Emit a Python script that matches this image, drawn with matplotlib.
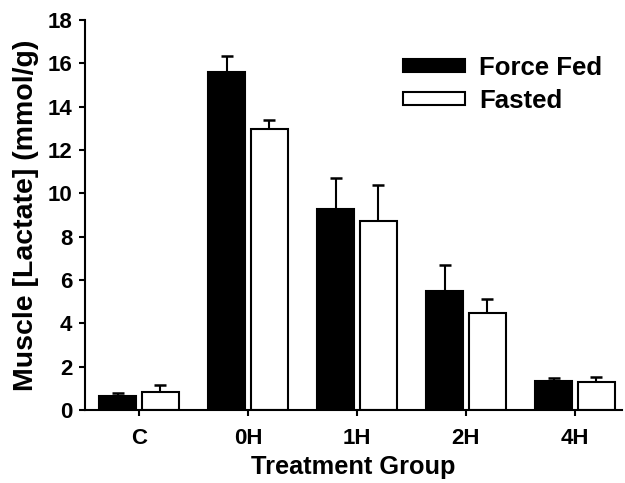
import matplotlib
matplotlib.use("Agg")
import matplotlib.pyplot as plt
import numpy as np

plt.rcParams['font.family'] = ['Liberation Sans', 'DejaVu Sans']
plt.rcParams['font.weight'] = 'bold'

groups = ["C", "0H", "1H", "2H", "4H"]
force_fed = [0.66, 15.6, 9.3, 5.5, 1.35]
force_fed_err = [0.14, 0.75, 1.4, 1.2, 0.14]
fasted = [0.82, 12.95, 8.72, 4.48, 1.31]
fasted_err = [0.33, 0.42, 1.65, 0.64, 0.2]

fig = plt.figure(figsize=(6.25, 4.83), dpi=100)
ax = fig.add_axes([0.136, 0.151, 0.859, 0.8075])

x = np.arange(len(groups))
w = 0.34
off = 0.195

ax.bar(x - off, force_fed, width=w, color='black', edgecolor='black',
       linewidth=1.5, label='Force Fed', zorder=2)
ax.bar(x + off, fasted, width=w, color='white', edgecolor='black',
       linewidth=1.5, label='Fasted', zorder=2)

zeros = np.zeros(len(groups))
ax.errorbar(x - off, force_fed, yerr=[zeros, force_fed_err], fmt='none',
            ecolor='black', elinewidth=1.5, capsize=4.5, capthick=1.8, zorder=1)
ax.errorbar(x + off, fasted, yerr=[zeros, fasted_err], fmt='none',
            ecolor='black', elinewidth=1.5, capsize=4.5, capthick=1.8, zorder=1)

ax.set_xlim(-0.495, 4.43)
ax.set_ylim(0, 18)
ax.set_yticks(np.arange(0, 19, 2))
ax.set_xticks(x)
ax.set_xticklabels(groups)

for s in ['top', 'right']:
    ax.spines[s].set_visible(False)
for s in ['left', 'bottom']:
    ax.spines[s].set_linewidth(1.5)

ax.tick_params(axis='both', labelsize=16, width=1.5, length=4, direction='out')
ax.tick_params(axis='x', pad=9)
ax.tick_params(axis='y', pad=5)

ax.set_xlabel("Treatment Group", fontsize=18.3, fontweight='bold', labelpad=4)
ax.set_ylabel("Muscle [Lactate] (mmol/g)", fontsize=20.5, fontweight='bold', labelpad=6)

ax.legend(loc='upper left', bbox_to_anchor=(403 / 625, 1 - 56 / 483),
          bbox_transform=fig.transFigure, frameon=False, fontsize=18.5,
          handlelength=2.4, handleheight=0.4, handletextpad=0.55,
          labelspacing=0.35, borderpad=0, borderaxespad=0)

fig.savefig("out.png", dpi=100)
